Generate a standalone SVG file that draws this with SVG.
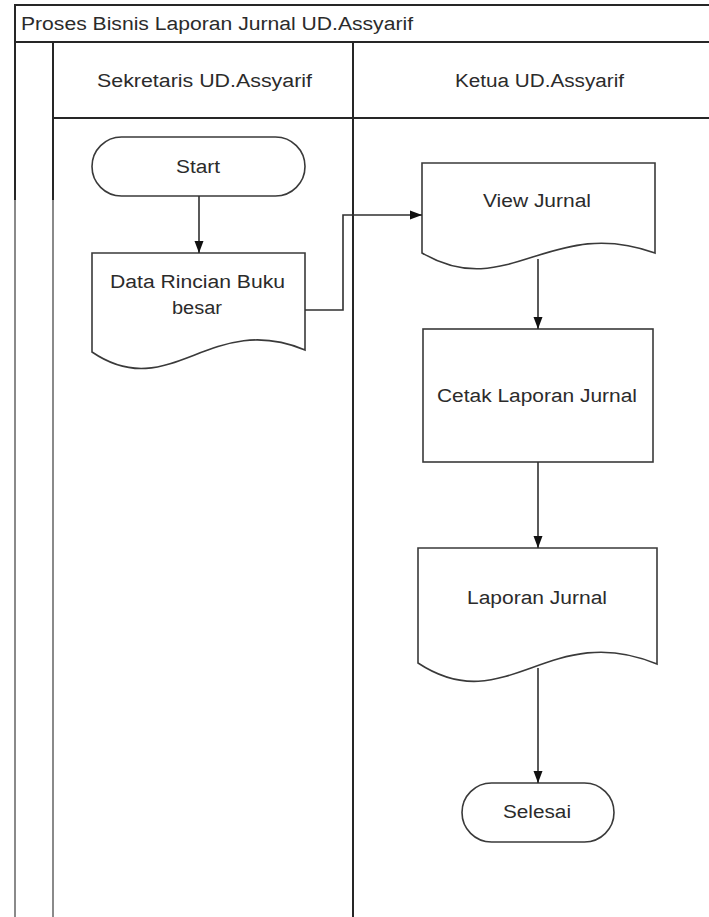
<svg xmlns="http://www.w3.org/2000/svg" width="709" height="917" viewBox="0 0 709 917">
<defs>
<style>
.frame{stroke:#262626;stroke-width:2;fill:none}
.faint{stroke:#8a8a8a;stroke-width:2;fill:none}
.shape{stroke:#3a3a3a;stroke-width:1.6;fill:#ffffff}
.conn{stroke:#303030;stroke-width:1.6;fill:none}
text{font-family:"Liberation Sans",Arial,sans-serif;font-size:18px;fill:#2b2b2b}
</style>
<marker id="arrow" markerUnits="userSpaceOnUse" markerWidth="12" markerHeight="12" viewBox="0 0 12 12" refX="12" refY="6" orient="auto">
<path d="M0,1.5 L12,6 L0,10.5 Z" fill="#111"/>
</marker>
</defs>
<rect x="0" y="0" width="709" height="917" fill="#ffffff"/>
<g id="pool">
<path class="frame" d="M15,200 V5 H712"/>
<path class="frame" d="M15,42 H712"/>
<path class="frame" d="M53,42 V200"/>
<path class="faint" d="M15,200 V917 M53,200 V917"/>
<path class="frame" d="M353,42 V917"/>
<path class="frame" d="M53,118 H712"/>
<text x="21" y="30" textLength="392" lengthAdjust="spacingAndGlyphs">Proses Bisnis Laporan Jurnal UD.Assyarif</text>
</g>
<g id="lane-sekretaris">
<text x="97" y="87" textLength="215" lengthAdjust="spacingAndGlyphs">Sekretaris UD.Assyarif</text>
</g>
<g id="lane-ketua">
<text x="455" y="87" textLength="169" lengthAdjust="spacingAndGlyphs">Ketua UD.Assyarif</text>
</g>
<g id="start">
<rect class="shape" x="92" y="137" width="213" height="59" rx="29.5" ry="29.5"/>
<text x="176" y="173" textLength="44" lengthAdjust="spacingAndGlyphs">Start</text>
</g>
<g id="data-rincian">
<path class="shape" d="M92,253 H305 V350 C210,310 170,405 92,352 Z"/>
<text x="110" y="288" textLength="175" lengthAdjust="spacingAndGlyphs">Data Rincian Buku</text>
<text x="172" y="314" textLength="50" lengthAdjust="spacingAndGlyphs">besar</text>
</g>
<g id="view-jurnal">
<path class="shape" d="M422,163 H655 V253 C550,215 508,303 422,253 Z"/>
<text x="483" y="207" textLength="108" lengthAdjust="spacingAndGlyphs">View Jurnal</text>
</g>
<g id="cetak-laporan">
<rect class="shape" x="423" y="329" width="230" height="133"/>
<text x="437" y="402" textLength="200" lengthAdjust="spacingAndGlyphs">Cetak Laporan Jurnal</text>
</g>
<g id="laporan-jurnal">
<path class="shape" d="M418,548 H657 V664 C549,619 506,721 418,663 Z"/>
<text x="467" y="604" textLength="140" lengthAdjust="spacingAndGlyphs">Laporan Jurnal</text>
</g>
<g id="selesai">
<rect class="shape" x="462" y="783" width="152" height="59" rx="29.5" ry="29.5"/>
<text x="503" y="818" textLength="68" lengthAdjust="spacingAndGlyphs">Selesai</text>
</g>
<g id="connectors">
<path class="conn" d="M199,196 V253" marker-end="url(#arrow)"/>
<path class="conn" d="M305,310 H343 V215 H422" marker-end="url(#arrow)"/>
<path class="conn" d="M538,259 V329" marker-end="url(#arrow)"/>
<path class="conn" d="M538,462 V548" marker-end="url(#arrow)"/>
<path class="conn" d="M538,668 V783" marker-end="url(#arrow)"/>
</g>
</svg>
